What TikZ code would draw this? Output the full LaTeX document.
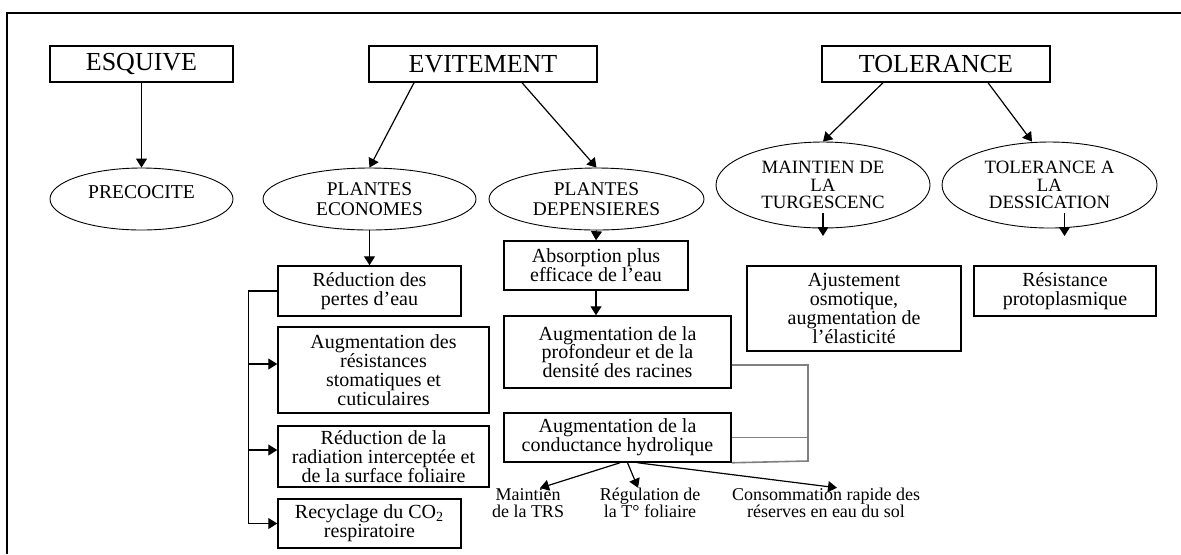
\documentclass[tikz,border=0pt]{standalone}
\usepackage{fontspec}
\setmainfont{Liberation Serif}
\usetikzlibrary{arrows.meta,shapes.geometric}

\begin{document}
\begin{tikzpicture}[x=0.5pt,y=-0.5pt,
    titre/.style={draw,line width=0.7pt,minimum height=18pt,inner sep=0pt,font=\fontsize{13}{15}\selectfont},
    ovale/.style={draw,ellipse,line width=0.45pt,align=center,inner sep=0pt,font=\fontsize{9.7}{10}\selectfont},
    boite/.style={draw,line width=0.75pt,align=center,inner sep=0pt,font=\fontsize{10}{9.4}\selectfont},
    petit/.style={align=center,inner sep=0pt,font=\fontsize{9}{8.5}\selectfont},
    fl/.style={-{Triangle[length=4.5pt,width=5.5pt]},line width=0.6pt},
    gris/.style={draw=gray,line width=0.8pt}]
  \useasboundingbox (0,0) rectangle (1181,554);
  \draw[line width=1.4pt] (7,554) -- (7,13) -- (1181,13);

  \node[titre,minimum width=91.5pt] (esq) at (141.5,64) {ESQUIVE};
  \node[titre,minimum width=114pt] (evit) at (483,64) {EVITEMENT};
  \node[titre,minimum width=114pt] (tol) at (936,64) {TOLERANCE};

  \node[ovale,minimum width=91.5pt,minimum height=31pt] (preco) at (141.5,199) {};
  \node[font=\fontsize{9.8}{10}\selectfont,inner sep=0pt] (precotxt) at (141.5,192) {PRECOCITE};
  \node[ovale,minimum width=106.5pt,minimum height=31pt] (econ) at (369.5,199) {PLANTES\\ECONOMES};
  \node[ovale,minimum width=107.5pt,minimum height=31pt] (dep) at (596.5,199) {PLANTES\\DEPENSIERES};
  \node[ovale,minimum width=107pt,minimum height=43pt,font=\fontsize{9.4}{8.8}\selectfont] (maint) at (823,185) {MAINTIEN DE\\LA\\TURGESCENC};
  \node[ovale,minimum width=107.5pt,minimum height=43pt,font=\fontsize{9.4}{8.8}\selectfont] (desic) at (1049.5,185) {TOLERANCE A\\LA\\DESSICATION};

  \node[boite,minimum width=91.5pt,minimum height=25pt] (red1) at (369.5,291) {Réduction des\\pertes d’eau};
  \node[boite,minimum width=105.5pt,minimum height=43pt] (augres) at (383.5,370) {Augmentation des\\résistances\\stomatiques et\\cuticulaires};
  \node[boite,minimum width=105.5pt,minimum height=30.5pt] (radia) at (383.5,456.5) {Réduction de la\\radiation interceptée et\\de la surface foliaire};
  \node[boite,minimum width=91.5pt,minimum height=24.5pt] (recyc) at (369.5,523.5) {Recyclage du CO\textsubscript{2}\\respiratoire};
  \node[boite,minimum width=92pt,minimum height=24.5pt] (absor) at (596,265.5) {Absorption plus\\efficace de l’eau};
  \node[boite,minimum width=113.5pt,minimum height=36pt] (prof) at (617.5,352) {Augmentation de la\\profondeur et de la\\densité des racines};
  \node[boite,minimum width=113.5pt,minimum height=24.5pt] (cond) at (617.5,437.5) {Augmentation de la\\conductance hydrolique};
  \node[boite,minimum width=107pt,minimum height=42.5pt] (ajust) at (854,308.5) {Ajustement\\osmotique,\\augmentation de\\l’élasticité};
  \node[boite,minimum width=91pt,minimum height=25pt] (proto) at (1065,291) {Résistance\\protoplasmique};

  \node[petit] (lmaint) at (528,503) {Maintien\\de la TRS};
  \node[petit] (lregul) at (650,503) {Régulation de\\la T° foliaire};
  \node[petit] (lconso) at (826,503) {Consommation rapide des\\réserves en eau du sol};

  \draw[fl] (esq.south) -- (preco.north);
  \draw[fl] ([xshift=-34.5pt]evit.south) -- (econ.north);
  \draw[fl] ([xshift=19.5pt]evit.south) -- (dep.north);
  \draw[fl] ([xshift=-26.5pt]tol.south) -- (maint.north);
  \draw[fl] ([xshift=26pt]tol.south) -- ([xshift=-8.75pt]desic.north);
  \draw[fl] (econ.south) -- (red1.north);
  \draw[fl] (dep.south) -- (absor.north);
  \draw[fl] (absor.south) -- (absor.south |- prof.north);
  \coordinate (maintfin) at (823,236);
  \coordinate (desicfin) at (1064.5,236);
  \draw[fl] ([yshift=7.5pt]maint.south) -- (maintfin);
  \draw[fl,line width=0.9pt] ([xshift=7.5pt,yshift=7.5pt]desic.south) -- (desicfin);

  \coordinate (bus) at ([xshift=-14.5pt]red1.west);
  \draw[fl] (red1.west) -- (bus) |- (recyc.west);
  \draw[fl] ([xshift=-14.5pt,yshift=3pt]augres.west) -- ([yshift=3pt]augres.west);
  \draw[fl] ([xshift=-14.5pt,yshift=3.25pt]radia.west) -- ([yshift=3.25pt]radia.west);

  \coordinate (ghaut) at (808,365);
  \coordinate (gbas) at (808,461);
  \draw[gris] ([yshift=-6.5pt]prof.east) -- (ghaut) -- (gbas) -- (cond.south east);
  \draw[gris] (cond.east) -- (cond.east -| ghaut);

  \draw[fl] ([xshift=1.25pt]cond.south) -- ([xshift=6pt]lmaint.north);
  \draw[fl] ([xshift=5pt]cond.south) -- ([xshift=-6pt]lregul.north);
  \draw[fl] ([xshift=10pt]cond.south) -- ([xshift=5.5pt]lconso.north);
\end{tikzpicture}
\end{document}
